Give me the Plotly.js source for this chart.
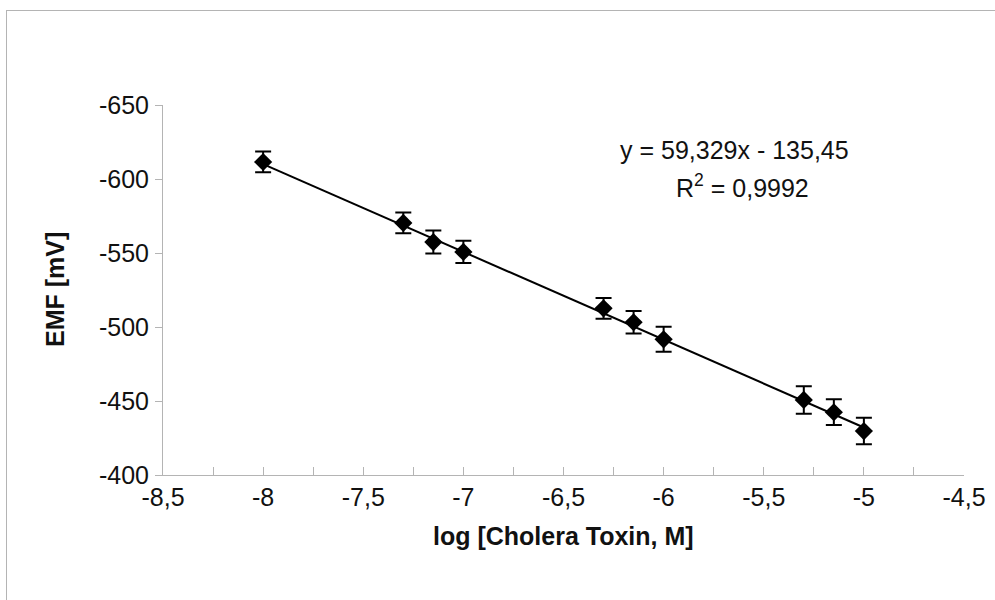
<!DOCTYPE html>
<html>
<head>
<meta charset="utf-8">
<script src="https://cdn.plot.ly/plotly-3.0.1.min.js"></script>
<style>
  html, body { margin: 0; padding: 0; background: #fff; }
  #wrap { position: relative; width: 995px; height: 600px; overflow: hidden; }
  #frame { position: absolute; left: 6px; top: 10px; width: 1000px; height: 600px;
           border-left: 1px solid #b4b4b4; border-top: 1px solid #b4b4b4; pointer-events: none; }
  #chart { position: absolute; left: 0; top: 0; width: 995px; height: 600px; }
</style>
</head>
<body>
<div id="wrap">
  <div id="chart"></div>
  <div id="frame"></div>
</div>
<script>
// log concentration of cholera toxin (M)
const logConc = [-8, -7.3, -7.15, -7, -6.3, -6.15, -6, -5.3, -5.15, -5];
// EMF readings (mV)
const emf = [-611.5, -570.3, -557.4, -550.7, -512.6, -503.2, -491.7, -450.7, -442.4, -429.7];
// error (± mV)
const emfErr = [7, 7, 7.8, 7.5, 7, 7.6, 8.4, 9.3, 8.7, 9];
// linear fit shown on chart
const fitSlope = 59.329;
const fitIntercept = -135.45;
const fitRange = [-8, -5];
const fitLabel = "y = 59,329x - 135,45";
const r2Label = "R<sup>2</sup> = 0,9992";

const xTickVals = [-8.5, -8, -7.5, -7, -6.5, -6, -5.5, -5, -4.5];
const xTickText = ["-8,5", "-8", "-7,5", "-7", "-6,5", "-6", "-5,5", "-5", "-4,5"];
const yTickVals = [-650, -600, -550, -500, -450, -400];
const yTickText = ["-650", "-600", "-550", "-500", "-450", "-400"];

const xTitle = "log [Cholera Toxin, M]";
const yTitle = "EMF [mV]";

const fitY = fitRange.map(x => fitSlope * x + fitIntercept);

const font = "Liberation Sans, Arial, sans-serif";
const fs = 25;
const axisGray = "#b4b4b4";

const traces = [
  {
    x: fitRange, y: fitY, type: "scatter", mode: "lines",
    line: { color: "#000", width: 2 }, hoverinfo: "skip", showlegend: false
  },
  {
    x: logConc, y: emf, type: "scatter", mode: "markers",
    marker: { symbol: "diamond", size: 14, color: "#000" },
    error_y: { type: "data", array: emfErr, visible: true, color: "#000", thickness: 2, width: 8 },
    showlegend: false
  }
];

const layout = {
  width: 995, height: 600,
  margin: { l: 163, r: 31, t: 105, b: 125 },
  paper_bgcolor: "rgba(0,0,0,0)", plot_bgcolor: "#fff",
  font: { family: font, size: fs, color: "#111" },
  showlegend: false,
  xaxis: {
    range: [-8.5, -4.5], tickvals: xTickVals, ticktext: xTickText,
    showgrid: false, zeroline: false, showline: true, linecolor: axisGray, linewidth: 1,
    ticks: "inside", ticklen: 8, tickcolor: axisGray, tickwidth: 1,
    minor: { dtick: 0.25, tick0: -8.5, ticks: "inside", ticklen: 8, tickcolor: axisGray, showgrid: false },
    tickfont: { family: font, size: fs, color: "#111" }
  },
  yaxis: {
    range: [-400, -650], tickvals: yTickVals, ticktext: yTickText,
    showgrid: false, zeroline: false, showline: true, linecolor: axisGray, linewidth: 1,
    ticks: "outside", ticklen: 7, tickcolor: axisGray, tickwidth: 1,
    ticklabelstandoff: 1,
    tickfont: { family: font, size: fs, color: "#111" }
  },
  annotations: [
    { xref: "paper", yref: "paper", x: 0.5, y: -0.165, yanchor: "middle", xanchor: "center",
      text: "<b>" + xTitle + "</b>", showarrow: false, font: { family: font, size: fs, color: "#111" } },
    { xref: "paper", yref: "paper", x: -0.1348, y: 0.5, xanchor: "center", yanchor: "middle", textangle: -90,
      text: "<b>" + yTitle + "</b>", showarrow: false, font: { family: font, size: fs, color: "#111" } },
    { xref: "paper", yref: "paper", x: 0.714, y: 0.878, xanchor: "center", yanchor: "middle",
      text: fitLabel, showarrow: false, font: { family: font, size: fs, color: "#111" } },
    { xref: "paper", yref: "paper", x: 0.724, y: 0.781, xanchor: "center", yanchor: "middle",
      text: r2Label, showarrow: false, font: { family: font, size: fs, color: "#111" } }
  ]
};

Plotly.newPlot("chart", traces, layout, { displayModeBar: false, staticPlot: true });
</script>
</body>
</html>
